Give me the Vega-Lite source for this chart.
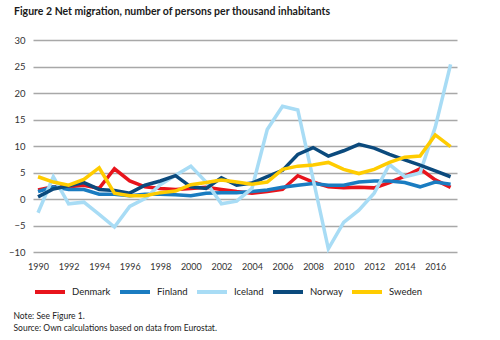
{
  "$schema": "https://vega.github.io/schema/vega-lite/v6.json",
  "width": 424,
  "height": 212,
  "autosize": "none",
  "padding": {"left": 33, "top": 40, "right": 43, "bottom": 88},
  "background": "white",
  "title": {
    "text": "Figure 2 Net migration, number of persons per thousand inhabitants",
    "anchor": "start",
    "frame": "group",
    "dx": -19,
    "offset": 18,
    "font": "Lato",
    "fontSize": 10.5,
    "fontWeight": "bold",
    "color": "#1a1a1a"
  },
  "config": {
    "view": {"stroke": null},
    "font": "Lato"
  },
  "data": {
    "values": [
      {"year":1990,"country":"Denmark","value":1.7},{"year":1991,"country":"Denmark","value":2.3},{"year":1992,"country":"Denmark","value":2.3},{"year":1993,"country":"Denmark","value":2.6},{"year":1994,"country":"Denmark","value":2.0},{"year":1995,"country":"Denmark","value":5.7},{"year":1996,"country":"Denmark","value":3.4},{"year":1997,"country":"Denmark","value":2.3},{"year":1998,"country":"Denmark","value":2.0},{"year":1999,"country":"Denmark","value":1.8},{"year":2000,"country":"Denmark","value":2.0},{"year":2001,"country":"Denmark","value":2.2},{"year":2002,"country":"Denmark","value":1.8},{"year":2003,"country":"Denmark","value":1.4},{"year":2004,"country":"Denmark","value":1.1},{"year":2005,"country":"Denmark","value":1.4},{"year":2006,"country":"Denmark","value":1.8},{"year":2007,"country":"Denmark","value":4.4},{"year":2008,"country":"Denmark","value":3.2},{"year":2009,"country":"Denmark","value":2.3},{"year":2010,"country":"Denmark","value":2.1},{"year":2011,"country":"Denmark","value":2.2},{"year":2012,"country":"Denmark","value":2.1},{"year":2013,"country":"Denmark","value":3.1},{"year":2014,"country":"Denmark","value":4.3},{"year":2015,"country":"Denmark","value":5.7},{"year":2016,"country":"Denmark","value":3.6},{"year":2017,"country":"Denmark","value":2.2},
      {"year":1990,"country":"Finland","value":1.4},{"year":1991,"country":"Finland","value":2.3},{"year":1992,"country":"Finland","value":1.8},{"year":1993,"country":"Finland","value":1.8},{"year":1994,"country":"Finland","value":0.9},{"year":1995,"country":"Finland","value":0.9},{"year":1996,"country":"Finland","value":0.6},{"year":1997,"country":"Finland","value":0.9},{"year":1998,"country":"Finland","value":0.9},{"year":1999,"country":"Finland","value":0.8},{"year":2000,"country":"Finland","value":0.6},{"year":2001,"country":"Finland","value":1.1},{"year":2002,"country":"Finland","value":1.2},{"year":2003,"country":"Finland","value":1.2},{"year":2004,"country":"Finland","value":1.4},{"year":2005,"country":"Finland","value":1.7},{"year":2006,"country":"Finland","value":2.2},{"year":2007,"country":"Finland","value":2.6},{"year":2008,"country":"Finland","value":2.9},{"year":2009,"country":"Finland","value":2.6},{"year":2010,"country":"Finland","value":2.6},{"year":2011,"country":"Finland","value":3.2},{"year":2012,"country":"Finland","value":3.4},{"year":2013,"country":"Finland","value":3.4},{"year":2014,"country":"Finland","value":3.1},{"year":2015,"country":"Finland","value":2.3},{"year":2016,"country":"Finland","value":3.2},{"year":2017,"country":"Finland","value":2.8},
      {"year":1990,"country":"Iceland","value":-2.6},{"year":1991,"country":"Iceland","value":4.2},{"year":1992,"country":"Iceland","value":-0.9},{"year":1993,"country":"Iceland","value":-0.6},{"year":1994,"country":"Iceland","value":-2.9},{"year":1995,"country":"Iceland","value":-5.3},{"year":1996,"country":"Iceland","value":-1.4},{"year":1997,"country":"Iceland","value":0.1},{"year":1998,"country":"Iceland","value":2.7},{"year":1999,"country":"Iceland","value":4.5},{"year":2000,"country":"Iceland","value":6.2},{"year":2001,"country":"Iceland","value":3.2},{"year":2002,"country":"Iceland","value":-0.9},{"year":2003,"country":"Iceland","value":-0.4},{"year":2004,"country":"Iceland","value":2.0},{"year":2005,"country":"Iceland","value":13.1},{"year":2006,"country":"Iceland","value":17.5},{"year":2007,"country":"Iceland","value":16.8},{"year":2008,"country":"Iceland","value":3.8},{"year":2009,"country":"Iceland","value":-9.4},{"year":2010,"country":"Iceland","value":-4.4},{"year":2011,"country":"Iceland","value":-2.1},{"year":2012,"country":"Iceland","value":1.1},{"year":2013,"country":"Iceland","value":6.5},{"year":2014,"country":"Iceland","value":4.2},{"year":2015,"country":"Iceland","value":4.9},{"year":2016,"country":"Iceland","value":13.6},{"year":2017,"country":"Iceland","value":25.4},
      {"year":1990,"country":"Norway","value":0.4},{"year":1991,"country":"Norway","value":1.9},{"year":1992,"country":"Norway","value":2.5},{"year":1993,"country":"Norway","value":3.1},{"year":1994,"country":"Norway","value":1.8},{"year":1995,"country":"Norway","value":1.6},{"year":1996,"country":"Norway","value":1.1},{"year":1997,"country":"Norway","value":2.6},{"year":1998,"country":"Norway","value":3.4},{"year":1999,"country":"Norway","value":4.4},{"year":2000,"country":"Norway","value":2.3},{"year":2001,"country":"Norway","value":2.0},{"year":2002,"country":"Norway","value":4.0},{"year":2003,"country":"Norway","value":2.6},{"year":2004,"country":"Norway","value":3.0},{"year":2005,"country":"Norway","value":4.2},{"year":2006,"country":"Norway","value":5.4},{"year":2007,"country":"Norway","value":8.4},{"year":2008,"country":"Norway","value":9.7},{"year":2009,"country":"Norway","value":8.1},{"year":2010,"country":"Norway","value":9.1},{"year":2011,"country":"Norway","value":10.3},{"year":2012,"country":"Norway","value":9.6},{"year":2013,"country":"Norway","value":8.4},{"year":2014,"country":"Norway","value":7.4},{"year":2015,"country":"Norway","value":6.4},{"year":2016,"country":"Norway","value":5.3},{"year":2017,"country":"Norway","value":4.2},
      {"year":1990,"country":"Sweden","value":4.2},{"year":1991,"country":"Sweden","value":3.2},{"year":1992,"country":"Sweden","value":2.6},{"year":1993,"country":"Sweden","value":3.7},{"year":1994,"country":"Sweden","value":5.9},{"year":1995,"country":"Sweden","value":1.1},{"year":1996,"country":"Sweden","value":0.6},{"year":1997,"country":"Sweden","value":0.6},{"year":1998,"country":"Sweden","value":1.2},{"year":1999,"country":"Sweden","value":1.5},{"year":2000,"country":"Sweden","value":2.7},{"year":2001,"country":"Sweden","value":3.1},{"year":2002,"country":"Sweden","value":3.6},{"year":2003,"country":"Sweden","value":3.2},{"year":2004,"country":"Sweden","value":2.8},{"year":2005,"country":"Sweden","value":3.2},{"year":2006,"country":"Sweden","value":5.6},{"year":2007,"country":"Sweden","value":6.2},{"year":2008,"country":"Sweden","value":6.4},{"year":2009,"country":"Sweden","value":6.9},{"year":2010,"country":"Sweden","value":5.6},{"year":2011,"country":"Sweden","value":4.8},{"year":2012,"country":"Sweden","value":5.6},{"year":2013,"country":"Sweden","value":6.9},{"year":2014,"country":"Sweden","value":7.9},{"year":2015,"country":"Sweden","value":8.1},{"year":2016,"country":"Sweden","value":12.1},{"year":2017,"country":"Sweden","value":9.9}
    ]
  },
  "mark": {"type": "line", "strokeWidth": 3.5, "strokeJoin": "miter"},
  "encoding": {
    "x": {
      "field": "year",
      "type": "quantitative",
      "scale": {"domain": [1989.67, 2017.42], "nice": false, "zero": false},
      "axis": {
        "values": [1990,1992,1994,1996,1998,2000,2002,2004,2006,2008,2010,2012,2014,2016],
        "format": "d",
        "grid": false,
        "domain": false,
        "ticks": false,
        "labelPadding": 10,
        "labelDx": 4,
        "labelFontSize": 9,
        "labelColor": "#333333",
        "labelFont": "Lato",
        "title": ["Note: See Figure 1.", "Source: Own calculations based on data from Eurostat."],
        "titleX": -20,
        "titleY": 59,
        "titleAlign": "left",
        "titleAnchor": "start",
        "titleBaseline": "top",
        "titleFontWeight": "normal",
        "titleFontSize": 8.5,
        "titleLineHeight": 12,
        "titleColor": "#222222",
        "titleFont": "Lato"
      }
    },
    "y": {
      "field": "value",
      "type": "quantitative",
      "scale": {"domain": [-10, 30], "nice": false},
      "axis": {
        "values": [-10,-5,0,5,10,15,20,25,30],
        "grid": true,
        "gridColor": "#a8a8a8",
        "gridWidth": 1.5,
        "domain": false,
        "ticks": false,
        "labelPadding": 8,
        "labelFontSize": 9.5,
        "labelColor": "#333333",
        "labelFont": "Lato",
        "title": null
      }
    },
    "color": {
      "field": "country",
      "type": "nominal",
      "scale": {
        "domain": ["Denmark","Finland","Iceland","Norway","Sweden"],
        "range": ["#e8141c","#1a7cc1","#a8dcf5","#0b4a7d","#ffcc00"]
      },
      "legend": {
        "orient": "none",
        "direction": "horizontal",
        "legendX": 0,
        "legendY": 235,
        "title": null,
        "padding": 0,
        "symbolType": "stroke",
        "symbolSize": 900,
        "symbolStrokeWidth": 4,
        "labelOffset": 5,
        "columnPadding": 1,
        "labelFontSize": 9.5,
        "labelColor": "#222222",
        "labelFont": "Lato"
      }
    }
  }
}
